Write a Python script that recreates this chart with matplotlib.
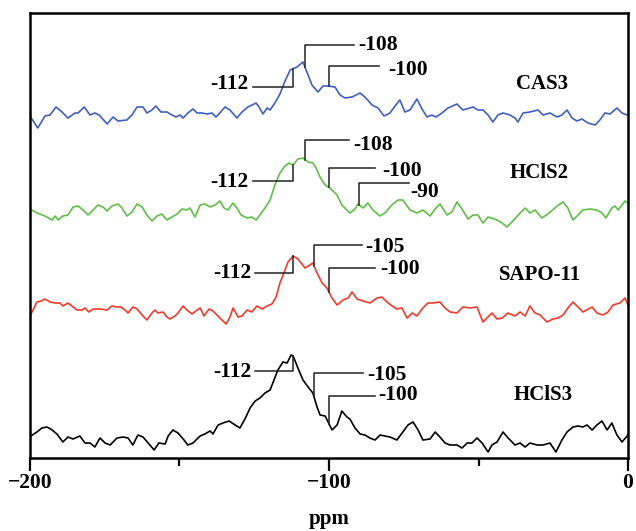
import numpy as np
import matplotlib.pyplot as plt

plt.rcParams['font.family'] = ['Liberation Serif', 'DejaVu Serif']
plt.rcParams['font.weight'] = 'bold'

# 29Si MAS NMR traces, stacked (ppm, shifted intensity)
cas3_ppm = [-200, -197.4, -195, -193.3, -191.3, -189.3, -187.3, -184.9, -183.9, -181.9, -179.9, -178.3,
            -176.9, -174.2, -172.2, -170.6, -167.6, -165.9, -164.2, -162.2, -160.9, -159.2, -157.9, -156.2,
            -154.2, -152.5, -151.2, -149.8, -148.8, -147.2, -145.5, -144.1, -142.5, -140.8, -139.1, -137.8,
            -136.5, -134.8, -133.1, -130.8, -129.1, -127.1, -124.4, -123.4, -122.1, -120.7, -119.7, -118.1,
            -116.4, -114.7, -113.0, -110.7, -108.7, -107.4, -105.7, -103.7, -102.0, -100.3, -98.0, -96.3,
            -94.6, -92.3, -89.6, -88.0, -85.6, -83.6, -81.6, -79.6, -77.9, -76.3, -74.6, -72.9, -70.6,
            -68.9, -67.2, -65.6, -64.2, -62.2, -60.2, -57.2, -55.2, -51.8, -50.2, -48.5, -46.8, -45.2,
            -43.5, -41.8, -39.5, -37.8, -36.8, -35.1, -32.8, -30.1, -28.4, -26.1, -23.7, -22.1, -20.4,
            -18.7, -17.1, -15.4, -13.4, -11.0, -9.4, -7.7, -6.0, -3.7, -2.0, -0.3, 0]
cas3_int = [342, 330, 342, 343, 351, 346, 340, 345, 345, 351, 343, 345,
            343, 334, 341, 337, 338, 343, 351, 351, 345, 348, 352, 346,
            346, 343, 341, 343, 340, 345, 349, 345, 345, 344, 345, 341,
            345, 351, 348, 340, 346, 351, 355, 351, 344, 350, 348, 355,
            364, 377, 388, 391, 396, 386, 373, 366, 372, 372, 371, 363,
            360, 361, 365, 361, 353, 350, 342, 345, 352, 358, 346, 348, 359,
            349, 341, 343, 341, 345, 350, 354, 348, 351, 348, 348, 343, 336,
            343, 345, 343, 340, 336, 345, 346, 348, 343, 345, 341, 343, 348,
            340, 337, 339, 335, 333, 338, 345, 344, 350, 345, 343, 343]

hcls2_ppm = [-200, -197.7, -195, -192.6, -191.6, -190.6, -189, -187.3, -185.6, -183.9, -182.3, -180.6,
             -178.9, -177.3, -175.6, -174.2, -172.6, -170.6, -169.2, -167.6, -165.9, -164.2, -162.5, -160.9,
             -159.2, -157.5, -155.9, -154.2, -152.5, -150.8, -149.2, -147.5, -146.5, -144.8, -143.1, -141.5,
             -139.8, -138.1, -136.5, -135.1, -133.8, -132.1, -130.8, -129.4, -127.4, -125.8, -124.4, -123.1,
             -121.4, -119.7, -118.1, -116.4, -114.7, -113.4, -112.0, -110.4, -108.7, -107.0, -105.4, -104.3,
             -103.0, -101.3, -99.7, -97.3, -95.7, -93.0, -91.3, -90.3, -88.6, -87.0, -85.3, -83.0, -81.3,
             -79.0, -76.9, -75.3, -72.9, -70.6, -68.6, -66.2, -64.5, -62.9, -60.5, -58.9, -57.2, -55.5,
             -53.5, -51.8, -50.2, -48.5, -46.8, -43.8, -42.1, -40.5, -38.5, -36.1, -34.4, -32.8, -31.1,
             -28.8, -26.8, -23.7, -21.7, -20.1, -18.4, -16.7, -15.1, -12.7, -10.4, -8.7, -7.4, -5.4,
             -4.3, -3.3, -2.0, -1.0, 0]
hcls2_int = [249, 245, 242, 238, 242, 238, 242, 243, 251, 252, 248, 243,
             248, 253, 251, 247, 252, 254, 250, 242, 246, 254, 251, 243,
             237, 242, 244, 238, 241, 244, 249, 248, 250, 241, 253, 254,
             251, 253, 257, 250, 248, 255, 250, 243, 240, 241, 238, 243,
             250, 258, 273, 285, 292, 295, 293, 299, 300, 296, 295, 290,
             281, 273, 270, 263, 253, 245, 249, 254, 250, 255, 248, 242, 245,
             253, 258, 258, 248, 245, 248, 242, 249, 254, 243, 246, 256, 249,
             239, 243, 243, 235, 241, 238, 235, 231, 237, 245, 250, 245, 248,
             240, 244, 252, 256, 250, 238, 243, 248, 249, 248, 245, 240, 250,
             252, 248, 253, 257, 255]

sapo11_ppm = [-200, -199, -197.7, -196.3, -195, -193.3, -191.6, -190, -189, -187.3, -186, -184.3,
              -182.6, -181.6, -180.3, -178.9, -176.6, -174.2, -172.6, -170.9, -169.6, -168.2, -167.2, -165.6,
              -164.2, -162.5, -160.9, -159.2, -158.2, -157.2, -155.5, -154.2, -153.2, -151.5, -150.5, -148.8,
              -147.5, -145.8, -144.1, -143.1, -141.8, -140.1, -138.8, -136.5, -134.4, -133.1, -132.1, -130.4,
              -129.1, -127.4, -125.8, -124.1, -122.4, -120.7, -119.1, -117.7, -116.4, -115.1, -113.7, -112.0,
              -110.4, -108.0, -106.4, -105.4, -104.0, -102.3, -100.7, -99.0, -97.3, -95.3, -93.6, -92.3,
              -90.6, -88.6, -86.3, -83.9, -82.3, -80.6, -78.9, -77.3, -75.6, -73.9, -72.2, -70.6, -68.6,
              -66.9, -65.2, -62.9, -61.2, -59.5, -57.2, -55.2, -52.8, -50.5, -48.5, -45.5, -43.8, -42.1,
              -40.1, -37.8, -36.1, -34.4, -32.8, -31.1, -29.4, -27.1, -25.1, -23.4, -21.7, -20.1, -18.4,
              -16.7, -15.1, -12.0, -10.4, -8.4, -6.7, -5.0, -2.7, -1.0, 0]
sapo11_int = [142, 148, 156, 157, 159, 156, 155, 155, 152, 155, 152, 148,
              148, 150, 146, 149, 149, 148, 152, 151, 151, 148, 145, 151,
              149, 143, 138, 145, 148, 145, 146, 141, 139, 142, 145, 152,
              148, 144, 148, 150, 142, 149, 147, 140, 134, 141, 150, 141,
              142, 148, 146, 152, 149, 152, 154, 161, 175, 185, 196, 202,
              199, 190, 193, 195, 185, 175, 170, 160, 153, 158, 160, 166,
              159, 157, 155, 160, 161, 156, 152, 149, 150, 140, 145, 142, 150,
              155, 155, 156, 150, 146, 145, 151, 150, 151, 136, 145, 139, 140,
              145, 142, 146, 142, 152, 145, 143, 136, 139, 140, 143, 150, 156,
              151, 146, 151, 145, 143, 146, 153, 155, 160, 153]

hcls3_ppm = [-199.7, -197.7, -196, -194.3, -192.6, -191, -189, -187.3, -185.6, -183.3, -181.6, -179.9,
             -178.3, -176.6, -174.9, -173.2, -170.9, -168.9, -167.2, -165.6, -163.9, -162.2, -159.9, -158.5,
             -156.9, -154.8, -153.8, -152.2, -150.5, -148.5, -147.2, -145.5, -143.1, -141.5, -139.8, -138.8,
             -137.1, -135.5, -133.4, -131.4, -129.8, -128.1, -126.4, -124.7, -123.1, -121.4, -119.7, -118.4,
             -117.1, -115.4, -114.0, -112.7, -112.0, -110.4, -108.7, -107.0, -105.4, -104.0, -103.0, -101.3,
             -100.3, -99.0, -97.3, -95.7, -94.0, -93.0, -91.3, -89.6, -88.0, -86.3, -84.6, -82.9, -81.3,
             -79.6, -77.3, -75.3, -73.6, -71.9, -70.2, -68.6, -66.2, -64.5, -62.9, -61.2, -59.5, -57.2,
             -55.5, -53.8, -52.2, -50.5, -48.8, -46.8, -45.5, -43.8, -41.8, -40.1, -37.8, -36.1, -34.4,
             -32.8, -30.4, -28.4, -26.1, -24.1, -22.1, -20.4, -18.4, -16.7, -15.1, -13.7, -12.0, -10.4,
             -8.7, -7.0, -5.4, -3.7, -2.0, -0.3, 0]
hcls3_int = [22, 26, 30, 31, 28, 24, 16, 21, 19, 22, 15, 15,
             11, 20, 15, 13, 20, 21, 20, 13, 23, 21, 13, 8,
             15, 14, 22, 28, 25, 18, 13, 15, 22, 24, 27, 24,
             33, 35, 37, 33, 30, 39, 50, 57, 60, 65, 68, 78,
             88, 96, 95, 103, 102, 90, 78, 71, 65, 51, 43, 42,
             36, 28, 33, 47, 41, 39, 30, 24, 23, 20, 18, 23, 22,
             21, 18, 26, 33, 36, 28, 18, 19, 26, 21, 15, 13, 13,
             10, 15, 15, 20, 15, 6, 13, 16, 26, 20, 13, 15, 11,
             15, 13, 13, 15, 6, 18, 26, 31, 32, 31, 33, 28, 33,
             37, 28, 35, 23, 16, 22, 24]

samples = ['CAS3', 'HClS2', 'SAPO-11', 'HClS3']
colors = ['#3f5fc2', '#5fbf48', '#f03b2b', 'black']
traces = [(cas3_ppm, cas3_int), (hcls2_ppm, hcls2_int), (sapo11_ppm, sapo11_int), (hcls3_ppm, hcls3_int)]
name_pos = [(-28.8, 374), (-29.8, 285), (-29.4, 183), (-28.4, 63)]

# peak assignments: (ppm, side, bracket level, bracket end, text x, text y)
peaks = {
    'CAS3': [(-112, 'L', 371, -125.4, -126.8, 374),
             (-108, 'R', 413, -91.6, -90.3, 413),
             (-100, 'R', 392, -83.3, -80.3, 388)],
    'HClS2': [(-112, 'L', 277, -125.4, -126.8, 276),
              (-108, 'R', 318, -93.3, -92.0, 313),
              (-100, 'R', 290, -84.6, -82.3, 287),
              (-90, 'R', 275, -73.3, -72.9, 266)],
    'SAPO-11': [(-112, 'L', 185, -124.7, -125.8, 185),
                (-105, 'R', 213, -89.0, -88.0, 211),
                (-100, 'R', 190, -84.6, -82.9, 189)],
    'HClS3': [(-112, 'L', 87, -124.7, -125.8, 86),
              (-105, 'R', 85, -88.6, -87.3, 83),
              (-100, 'R', 62, -84.6, -83.6, 63)],
}

fig = plt.figure(figsize=(6.36, 5.31), dpi=100)
ax = fig.add_axes([30 / 636, 73 / 531, 598 / 636, 445 / 531])

for name, c, (x, y), pos in zip(samples, colors, traces, name_pos):
    ax.plot(x, y, color=c, lw=1.2)
    ax.text(pos[0], pos[1], name, ha='center', va='center', fontsize=15, fontweight='bold')
    for val, side, lev, xend, tx, ty in peaks[name]:
        yp = np.interp(val, x, y)
        if side == 'L':
            ax.plot([xend, val, val], [lev, lev, yp], color='#222222', lw=1.1)
            ax.text(tx, ty, str(val), ha='right', va='center', fontsize=15.5, fontweight='bold')
        else:
            ax.plot([val, val, xend], [yp, lev, lev], color='#222222', lw=1.1)
            ax.text(tx, ty, str(val), ha='left', va='center', fontsize=15.5, fontweight='bold')

ax.set_xlim(-200, 0)
ax.set_ylim(0, 445)
ax.set_yticks([])
ax.set_xticks([-200, -100, 0])
ax.set_xticks([-150, -50], minor=True)
ax.tick_params(axis='x', which='major', direction='out', length=9, width=1.6, labelsize=15.5, pad=2)
ax.tick_params(axis='x', which='minor', direction='out', length=6, width=1.6)
for lab in ax.get_xticklabels():
    lab.set_fontweight('bold')
for s in ax.spines.values():
    s.set_linewidth(1.8)
ax.set_xlabel('ppm', fontsize=15, fontweight='bold', labelpad=11)

fig.savefig('out.png', dpi=100)
